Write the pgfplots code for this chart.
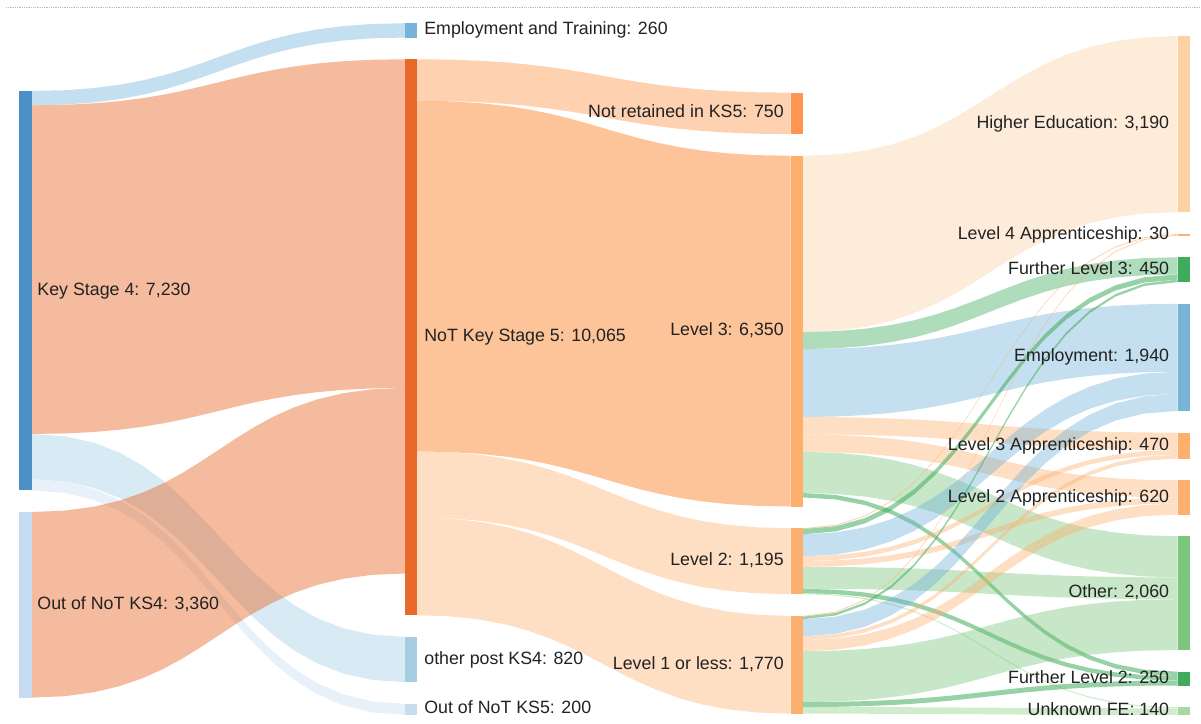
\documentclass[border=0pt]{standalone}
\usepackage{pgfplots}
\pgfplotsset{compat=1.18}
\usepackage{fontspec}
\setmainfont{Liberation Sans}

% node colours
\definecolor{nKS}{HTML}{4A8FC6}
\definecolor{nOK}{HTML}{C6DBEF}
\definecolor{nET}{HTML}{78B4DA}
\definecolor{nNK}{HTML}{E8692A}
\definecolor{nOP}{HTML}{A6CEE3}
\definecolor{nON}{HTML}{C8DCF0}
\definecolor{nNR}{HTML}{FD9650}
\definecolor{nLV}{HTML}{FDB06E}
\definecolor{nHE}{HTML}{FCD2A5}
\definecolor{nFG}{HTML}{41AB5D}
\definecolor{nEM}{HTML}{78B4D8}
\definecolor{nOT}{HTML}{7DC67D}
\definecolor{nUF}{HTML}{A5DAA0}
% link colours (drawn at partial opacity)
\definecolor{fBlue}{HTML}{6BAED6}
\definecolor{fNK}{HTML}{E6550D}
\definecolor{fOP}{HTML}{9ECAE1}
\definecolor{fON}{HTML}{C6DBEF}
\definecolor{fNR}{HTML}{FD8D3C}
\definecolor{fLV}{HTML}{FDAE6B}
\definecolor{fHE}{HTML}{FDD0A2}
\definecolor{fFG}{HTML}{41AB5D}
\definecolor{fOT}{HTML}{74C476}
\definecolor{fUF}{HTML}{A1D99B}
\definecolor{labc}{HTML}{222222}

\newcommand\kk{0.05525}   % px per unit
\newcommand\sgap{21.7}    % gap between nodes

\newcommand\startcol[1]{\xdef\cury{#1}}
\newcommand\mknode[2]{%
  \expandafter\xdef\csname top#1\endcsname{\cury}%
  \expandafter\xdef\csname out#1\endcsname{\cury}%
  \expandafter\xdef\csname in#1\endcsname{\cury}%
  \pgfmathsetmacro\tmpb{\cury+#2*\kk}%
  \expandafter\xdef\csname bot#1\endcsname{\tmpb}%
  \pgfmathsetmacro\tmpc{\cury+0.5*#2*\kk}%
  \expandafter\xdef\csname mid#1\endcsname{\tmpc}%
  \pgfmathsetmacro\tmpn{\tmpb+\sgap}%
  \xdef\cury{\tmpn}%
}

% nodes: name, value
\startcol{91.0}
\mknode{KS}{7230}\mknode{OK}{3360}
\startcol{23.2}
\mknode{ET}{260}\mknode{NK}{10065}\mknode{OP}{820}\mknode{ON}{200}
\startcol{92.7}
\mknode{NR}{750}\mknode{LT}{6350}\mknode{LW}{1195}\mknode{LO}{1770}
\startcol{36.0}
\mknode{HE}{3190}\mknode{AF}{30}\mknode{FT}{450}\mknode{EM}{1940}\mknode{AT}{470}\mknode{AW}{620}\mknode{OT}{2060}\mknode{FW}{250}\mknode{UF}{140}

% link: source, x0, target, x1, value, style
\newcommand\sflow[6]{%
  \edef\ya{\csname out#1\endcsname}%
  \edef\yb{\csname in#3\endcsname}%
  \pgfmathsetmacro\fw{#5*\kk}%
  \pgfmathsetmacro\tmpa{\ya+\fw}\expandafter\xdef\csname out#1\endcsname{\tmpa}%
  \pgfmathsetmacro\tmpa{\yb+\fw}\expandafter\xdef\csname in#3\endcsname{\tmpa}%
  \gdef\ptsT{}\gdef\ptsB{}%
  \foreach \i in {0,...,16}{%
    \pgfmathsetmacro\tp{\i/16}%
    \pgfmathsetmacro\qx{#2+(#4-#2)*(1.5*(1-\tp)*(1-\tp)*\tp+1.5*(1-\tp)*\tp*\tp+\tp*\tp*\tp)}%
    \pgfmathsetmacro\qy{\ya+(\yb-\ya)*(3*(1-\tp)*\tp*\tp+\tp*\tp*\tp)}%
    \pgfmathsetmacro\qyb{\qy+\fw}%
    \xdef\ptsT{\ptsT(\qx,\qy)}%
    \xdef\ptsB{(\qx,\qyb)\ptsB}%
  }%
  \edef\tmp{\noexpand\addplot[draw=none, mark=none, #6] coordinates {\ptsT\ptsB};}%
  \tmp
}
% node bar: name, x0, x1, colour
\newcommand\nodebar[4]{%
  \edef\tmp{\noexpand\addplot[draw=none, mark=none, fill=#4] coordinates {(#2,\csname top#1\endcsname) (#3,\csname top#1\endcsname) (#3,\csname bot#1\endcsname) (#2,\csname bot#1\endcsname)};}%
  \tmp
}
% label: name, x, anchor, text
\newcommand\slbl[4]{%
  \edef\tmp{\noexpand\node[anchor=#3, inner sep=0pt, outer sep=0pt, text height=12.8pt, text depth=3.6pt, text=labc, font=\noexpand\fontsize{17.8}{20}\noexpand\selectfont] at (axis cs:#2,\csname mid#1\endcsname)}%
  \tmp {#4};%
}

\begin{document}
\begin{tikzpicture}
\begin{axis}[
  width=1201pt, height=724pt, scale only axis,
  xmin=0, xmax=1201, ymin=0, ymax=724, y dir=reverse,
  hide axis, clip=false]
\addplot[draw=none, mark=none] coordinates {(0,0) (1201,724)};
\addplot[gray!55, densely dotted, line width=0.8pt, mark=none] coordinates {(6,7.5) (1201,7.5)};

% column 0 -> 1
\sflow{KS}{32}{ET}{405}{260}{fill=fBlue, fill opacity=0.4}
\sflow{KS}{32}{NK}{405}{5950}{fill=fNK, fill opacity=0.4}
\sflow{KS}{32}{OP}{405}{820}{fill=fOP, fill opacity=0.4}
\sflow{KS}{32}{ON}{405}{200}{fill=fON, fill opacity=0.4}
\sflow{OK}{32}{NK}{405}{3360}{fill=fNK, fill opacity=0.4}

% column 1 -> 2
\sflow{NK}{417}{NR}{791}{750}{fill=fNR, fill opacity=0.4}
\sflow{NK}{417}{LT}{791}{6350}{fill=fNR, fill opacity=0.52}
\sflow{NK}{417}{LW}{791}{1195}{fill=fLV, fill opacity=0.4}
\sflow{NK}{417}{LO}{791}{1770}{fill=fLV, fill opacity=0.4}

% column 2 -> 3 : Level 3
\sflow{LT}{803}{HE}{1178}{3190}{fill=fHE, fill opacity=0.4}
\sflow{LT}{803}{FT}{1178}{310}{fill=fFG, fill opacity=0.42}
\sflow{LT}{803}{EM}{1178}{1230}{fill=fBlue, fill opacity=0.4}
\sflow{LT}{803}{AT}{1178}{315}{fill=fLV, fill opacity=0.4}
\sflow{LT}{803}{AW}{1178}{315}{fill=fLV, fill opacity=0.4}
\sflow{LT}{803}{OT}{1178}{745}{fill=fOT, fill opacity=0.4}
\sflow{LT}{803}{FW}{1178}{80}{fill=fFG, fill opacity=0.55}
% Level 2
\sflow{LW}{803}{AF}{1178}{15}{fill=fLV, fill opacity=0.6}
\sflow{LW}{803}{FT}{1178}{95}{fill=fFG, fill opacity=0.55}
\sflow{LW}{803}{EM}{1178}{400}{fill=fBlue, fill opacity=0.4}
\sflow{LW}{803}{AT}{1178}{85}{fill=fLV, fill opacity=0.4}
\sflow{LW}{803}{AW}{1178}{105}{fill=fLV, fill opacity=0.4}
\sflow{LW}{803}{OT}{1178}{395}{fill=fOT, fill opacity=0.4}
\sflow{LW}{803}{FW}{1178}{80}{fill=fFG, fill opacity=0.55}
\sflow{LW}{803}{UF}{1178}{20}{fill=fUF, fill opacity=0.5}
% Level 1 or less
\sflow{LO}{803}{AF}{1178}{15}{fill=fLV, fill opacity=0.6}
\sflow{LO}{803}{FT}{1178}{45}{fill=fFG, fill opacity=0.55}
\sflow{LO}{803}{EM}{1178}{310}{fill=fBlue, fill opacity=0.4}
\sflow{LO}{803}{AT}{1178}{70}{fill=fLV, fill opacity=0.4}
\sflow{LO}{803}{AW}{1178}{200}{fill=fLV, fill opacity=0.4}
\sflow{LO}{803}{OT}{1178}{920}{fill=fOT, fill opacity=0.4}
\sflow{LO}{803}{FW}{1178}{90}{fill=fFG, fill opacity=0.55}
\sflow{LO}{803}{UF}{1178}{120}{fill=fUF, fill opacity=0.5}

% node bars
\nodebar{KS}{19}{32}{nKS}
\nodebar{OK}{19}{32}{nOK}
\nodebar{ET}{405}{417}{nET}
\nodebar{NK}{405}{417}{nNK}
\nodebar{OP}{405}{417}{nOP}
\nodebar{ON}{405}{417}{nON}
\nodebar{NR}{791}{803}{nNR}
\nodebar{LT}{791}{803}{nLV}
\nodebar{LW}{791}{803}{nLV}
\nodebar{LO}{791}{803}{nLV}
\nodebar{HE}{1178}{1190}{nHE}
\nodebar{AF}{1178}{1190}{nLV}
\nodebar{FT}{1178}{1190}{nFG}
\nodebar{EM}{1178}{1190}{nEM}
\nodebar{AT}{1178}{1190}{nLV}
\nodebar{AW}{1178}{1190}{nLV}
\nodebar{OT}{1178}{1190}{nOT}
\nodebar{FW}{1178}{1190}{nFG}
\nodebar{UF}{1178}{1190}{nUF}

% labels
\slbl{KS}{37.5}{west}{Key Stage 4: 7,230}
\slbl{OK}{37.5}{west}{Out of NoT KS4: 3,360}
\slbl{ET}{424.5}{west}{Employment and Training: 260}
\slbl{NK}{424.5}{west}{NoT Key Stage 5: 10,065}
\slbl{OP}{424.5}{west}{other post KS4: 820}
\slbl{ON}{424.5}{west}{Out of NoT KS5: 200}
\slbl{NR}{784}{east}{Not retained in KS5: 750}
\slbl{LT}{784}{east}{Level 3: 6,350}
\slbl{LW}{784}{east}{Level 2: 1,195}
\slbl{LO}{784}{east}{Level 1 or less: 1,770}
\slbl{HE}{1169.5}{east}{Higher Education: 3,190}
\slbl{AF}{1169.5}{east}{Level 4 Apprenticeship: 30}
\slbl{FT}{1169.5}{east}{Further Level 3: 450}
\slbl{EM}{1169.5}{east}{Employment: 1,940}
\slbl{AT}{1169.5}{east}{Level 3 Apprenticeship: 470}
\slbl{AW}{1169.5}{east}{Level 2 Apprenticeship: 620}
\slbl{OT}{1169.5}{east}{Other: 2,060}
\slbl{FW}{1169.5}{east}{Further Level 2: 250}
\slbl{UF}{1169.5}{east}{Unknown FE: 140}
\end{axis}
\end{tikzpicture}
\end{document}
